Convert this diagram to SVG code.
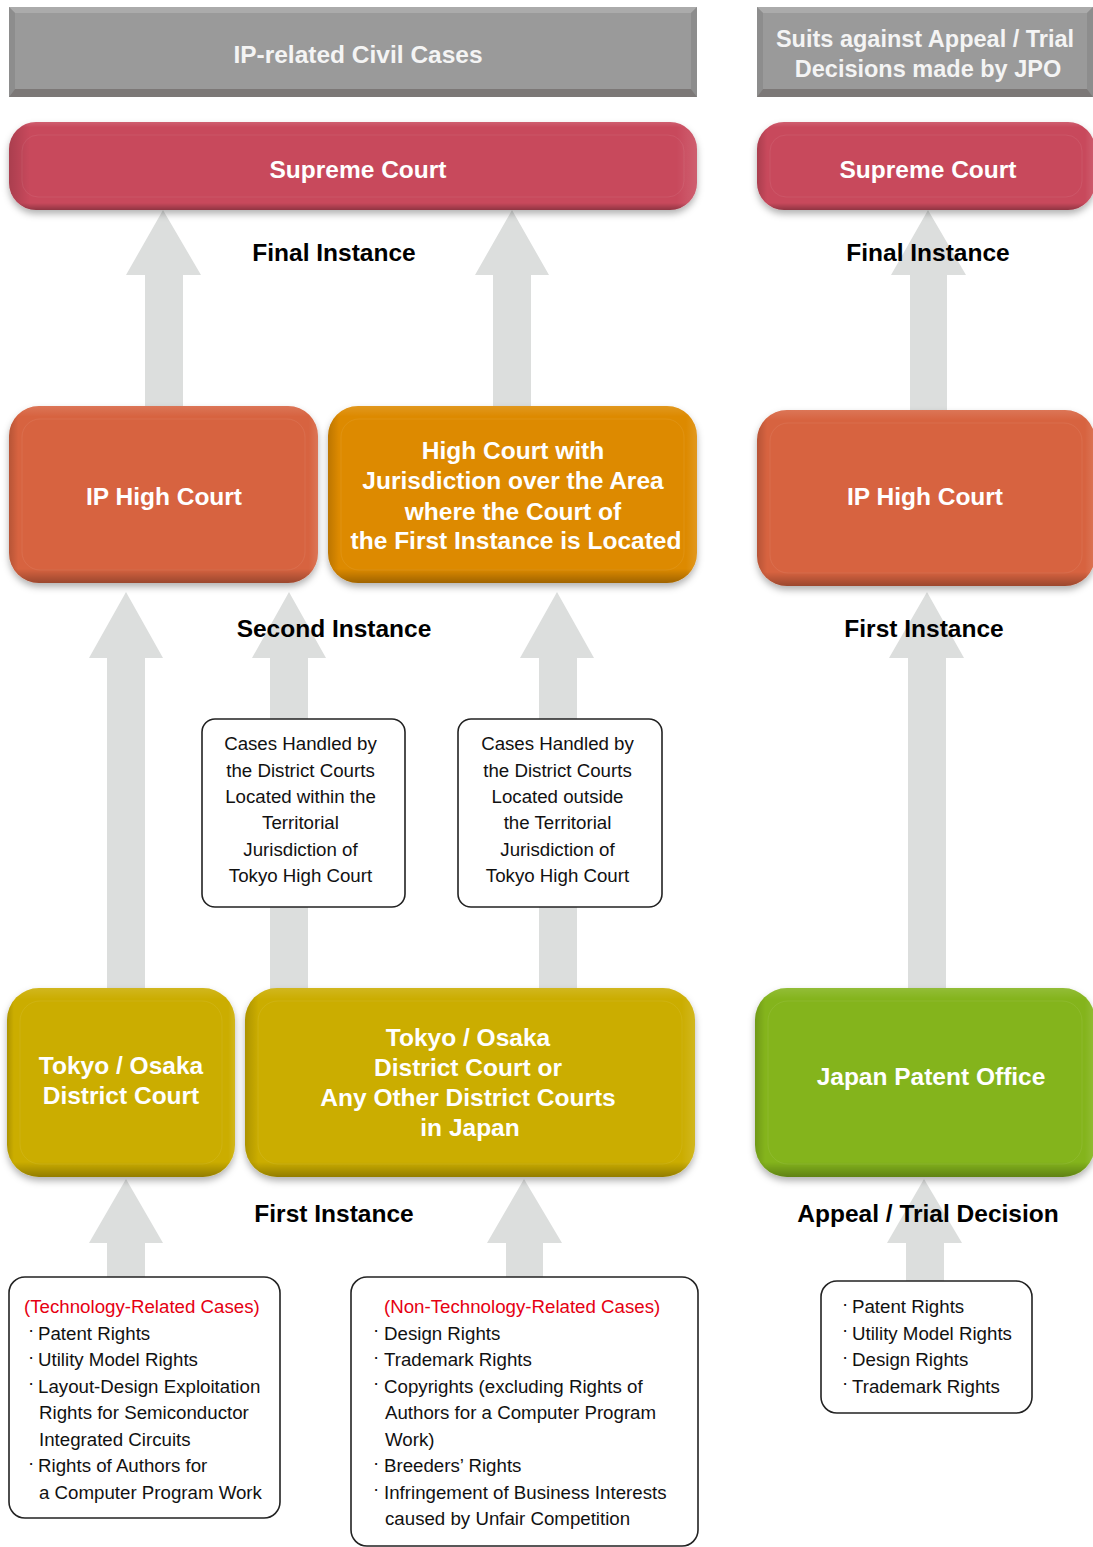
<svg xmlns="http://www.w3.org/2000/svg" width="1093" height="1547" viewBox="0 0 1093 1547">
<defs>
<filter id="sh" x="-10%" y="-20%" width="120%" height="150%">
<feDropShadow dx="0" dy="4" stdDeviation="3.5" flood-color="#000" flood-opacity="0.3"/>
</filter>
<linearGradient id="shade" x1="0" y1="0" x2="0" y2="1">
<stop offset="0" stop-color="#fff" stop-opacity="0.12"/>
<stop offset="0.06" stop-color="#fff" stop-opacity="0"/>
<stop offset="0.92" stop-color="#000" stop-opacity="0"/>
<stop offset="1" stop-color="#000" stop-opacity="0.28"/>
</linearGradient>
<linearGradient id="shadeH" x1="0" y1="0" x2="1" y2="0">
<stop offset="0" stop-color="#000" stop-opacity="0.15"/>
<stop offset="0.03" stop-color="#000" stop-opacity="0"/>
<stop offset="0.97" stop-color="#fff" stop-opacity="0"/>
<stop offset="1" stop-color="#fff" stop-opacity="0.12"/>
</linearGradient>
</defs>
<style>
text{font-family:"Liberation Sans",Arial,Helvetica,sans-serif}
.hd{font-size:24.5px;font-weight:bold;fill:#f4f4f4;text-anchor:middle}
.hd2{font-size:23.5px;font-weight:bold;fill:#f4f4f4;text-anchor:middle}
.nt{font-size:24.5px;font-weight:bold;fill:#fff;text-anchor:middle}
.lb{font-size:24.5px;font-weight:bold;fill:#000;text-anchor:middle}
.bx{font-size:18.7px;fill:#111;text-anchor:middle}
.li{font-size:18.7px;fill:#111}
.red{font-size:18.7px;fill:#e60012}
.card{fill:#fff;stroke:#222;stroke-width:1.6}
.arr{fill:#dcdedd}
.hl{fill:none;stroke:#fff;stroke-opacity:0.07;stroke-width:1}
.ov{fill:url(#shade)}
.ovh{fill:url(#shadeH)}
.sc{fill:#c8495c}
.ip{fill:#d7633f}
.or{fill:#dd8a00}
.ye{fill:#cbad00}
.gr{fill:#84b41e}
</style>
<rect width="1093" height="1547" fill="#fff"/>

<g id="connectors">
<polygon class="arr" points="163,210 201,275 183,275 183,412 145,412 145,275 126,275"/>
<polygon class="arr" points="512,210 549,275 531,275 531,412 493,412 493,275 475,275"/>
<polygon class="arr" points="928,210 966,275 947,275 947,416 910,416 910,275 891,275"/>
<polygon class="arr" points="126,592 163,658 145,658 145,995 107,995 107,658 89,658"/>
<polygon class="arr" points="289,592 326,658 308,658 308,995 270,995 270,658 252,658"/>
<polygon class="arr" points="557,592 594,658 577,658 577,995 539,995 539,658 520,658"/>
<polygon class="arr" points="927,592 964,658 946,658 946,995 908,995 908,658 889,658"/>
<polygon class="arr" points="126,1179 163,1243 145,1243 145,1280 107,1280 107,1243 89,1243"/>
<polygon class="arr" points="524,1179 562,1243 543,1243 543,1280 506,1280 506,1243 487,1243"/>
<polygon class="arr" points="924,1179 962,1243 944,1243 944,1284 906,1284 906,1243 887,1243"/>
</g>

<g id="header-civil">
<rect x="9" y="7" width="688" height="90" fill="#9a9a9a"/>
<polygon points="9,7 697,7 691,13 15,13" fill="#ababab"/>
<polygon points="9,7 15,13 15,89 9,97" fill="#8d8d8d"/>
<polygon points="697,7 691,13 691,89 697,97" fill="#8d8d8d"/>
<polygon points="9,97 697,97 691,89 15,89" fill="#7c7877"/>
<text class="hd" x="358" y="63">IP-related Civil Cases</text>
</g>

<g id="header-jpo">
<rect x="757" y="7" width="336" height="90" fill="#9a9a9a"/>
<polygon points="757,7 1093,7 1087,13 763,13" fill="#ababab"/>
<polygon points="757,7 763,13 763,89 757,97" fill="#8d8d8d"/>
<polygon points="1093,7 1087,13 1087,89 1093,97" fill="#8d8d8d"/>
<polygon points="757,97 1093,97 1087,89 763,89" fill="#7c7877"/>
<text class="hd2" x="925" y="47">Suits against Appeal / Trial</text>
<text class="hd2" x="928" y="77">Decisions made by JPO</text>
</g>

<g id="supreme-court-civil">
<rect class="sc" x="9" y="122" width="688" height="88" rx="27" filter="url(#sh)"/>
<rect class="ovh" x="9" y="122" width="688" height="88" rx="27"/>
<rect class="ov" x="9" y="122" width="688" height="88" rx="27"/>
<rect class="hl" x="22" y="135" width="662" height="62" rx="16"/>
<text class="nt" x="358" y="178">Supreme Court</text>
</g>

<g id="supreme-court-jpo">
<rect class="sc" x="757" y="122" width="338" height="88" rx="27" filter="url(#sh)"/>
<rect class="ovh" x="757" y="122" width="338" height="88" rx="27"/>
<rect class="ov" x="757" y="122" width="338" height="88" rx="27"/>
<rect class="hl" x="770" y="135" width="312" height="62" rx="16"/>
<text class="nt" x="928" y="178">Supreme Court</text>
</g>

<text class="lb" x="334" y="261">Final Instance</text>
<text class="lb" x="928" y="261">Final Instance</text>

<g id="ip-high-court-civil">
<rect class="ip" x="9" y="406" width="309" height="177" rx="30" filter="url(#sh)"/>
<rect class="ovh" x="9" y="406" width="309" height="177" rx="30"/>
<rect class="ov" x="9" y="406" width="309" height="177" rx="30"/>
<rect class="hl" x="22" y="419" width="283" height="151" rx="18"/>
<text class="nt" x="164" y="505">IP High Court</text>
</g>

<g id="high-court-area">
<rect class="or" x="328" y="406" width="369" height="177" rx="30" filter="url(#sh)"/>
<rect class="ovh" x="328" y="406" width="369" height="177" rx="30"/>
<rect class="ov" x="328" y="406" width="369" height="177" rx="30"/>
<rect class="hl" x="341" y="419" width="343" height="151" rx="18"/>
<text class="nt" x="513" y="459">High Court with</text>
<text class="nt" x="513" y="489">Jurisdiction over the Area</text>
<text class="nt" x="513" y="520">where the Court of</text>
<text class="nt" x="516" y="549">the First Instance is Located</text>
</g>

<g id="ip-high-court-jpo">
<rect class="ip" x="757" y="410" width="338" height="176" rx="30" filter="url(#sh)"/>
<rect class="ovh" x="757" y="410" width="338" height="176" rx="30"/>
<rect class="ov" x="757" y="410" width="338" height="176" rx="30"/>
<rect class="hl" x="770" y="423" width="312" height="150" rx="18"/>
<text class="nt" x="925" y="505">IP High Court</text>
</g>

<text class="lb" x="334" y="637">Second Instance</text>
<text class="lb" x="924" y="637">First Instance</text>

<g id="cases-within-tokyo">
<rect class="card" x="202" y="719" width="203" height="188" rx="13"/>
<text class="bx" x="300.5" y="750">Cases Handled by</text>
<text class="bx" x="300.5" y="776.5">the District Courts</text>
<text class="bx" x="300.5" y="803">Located within the</text>
<text class="bx" x="300.5" y="829">Territorial</text>
<text class="bx" x="300.5" y="855.5">Jurisdiction of</text>
<text class="bx" x="300.5" y="882">Tokyo High Court</text>
</g>

<g id="cases-outside-tokyo">
<rect class="card" x="458" y="719" width="204" height="188" rx="13"/>
<text class="bx" x="557.5" y="750">Cases Handled by</text>
<text class="bx" x="557.5" y="776.5">the District Courts</text>
<text class="bx" x="557.5" y="803">Located outside</text>
<text class="bx" x="557.5" y="829">the Territorial</text>
<text class="bx" x="557.5" y="855.5">Jurisdiction of</text>
<text class="bx" x="557.5" y="882">Tokyo High Court</text>
</g>

<g id="tokyo-osaka-district">
<rect class="ye" x="7" y="988" width="228" height="189" rx="32" filter="url(#sh)"/>
<rect class="ovh" x="7" y="988" width="228" height="189" rx="32"/>
<rect class="ov" x="7" y="988" width="228" height="189" rx="32"/>
<rect class="hl" x="20" y="1001" width="202" height="163" rx="20"/>
<text class="nt" x="121" y="1074">Tokyo / Osaka</text>
<text class="nt" x="121" y="1104">District Court</text>
</g>

<g id="any-district">
<rect class="ye" x="245" y="988" width="450" height="189" rx="32" filter="url(#sh)"/>
<rect class="ovh" x="245" y="988" width="450" height="189" rx="32"/>
<rect class="ov" x="245" y="988" width="450" height="189" rx="32"/>
<rect class="hl" x="258" y="1001" width="424" height="163" rx="20"/>
<text class="nt" x="468" y="1046">Tokyo / Osaka</text>
<text class="nt" x="468" y="1076">District Court or</text>
<text class="nt" x="468" y="1106">Any Other District Courts</text>
<text class="nt" x="470" y="1136">in Japan</text>
</g>

<g id="jpo">
<rect class="gr" x="755" y="988" width="340" height="189" rx="32" filter="url(#sh)"/>
<rect class="ovh" x="755" y="988" width="340" height="189" rx="32"/>
<rect class="ov" x="755" y="988" width="340" height="189" rx="32"/>
<rect class="hl" x="768" y="1001" width="314" height="163" rx="20"/>
<text class="nt" x="931" y="1085">Japan Patent Office</text>
</g>

<text class="lb" x="334" y="1222">First Instance</text>
<text class="lb" x="928" y="1222">Appeal / Trial Decision</text>

<g id="tech-cases">
<rect class="card" x="9" y="1277" width="271" height="241" rx="16"/>
<text class="red" x="24" y="1313">(Technology-Related Cases)</text>
<text class="li" y="1339.5"><tspan x="28" dy="-3.5">·</tspan><tspan x="38" dy="3.5">Patent Rights</tspan></text>
<text class="li" y="1366"><tspan x="28" dy="-3.5">·</tspan><tspan x="38" dy="3.5">Utility Model Rights</tspan></text>
<text class="li" y="1392.5"><tspan x="28" dy="-3.5">·</tspan><tspan x="38" dy="3.5">Layout-Design Exploitation</tspan></text>
<text class="li" x="39" y="1419">Rights for Semiconductor</text>
<text class="li" x="39" y="1445.5">Integrated Circuits</text>
<text class="li" y="1472"><tspan x="28" dy="-3.5">·</tspan><tspan x="38" dy="3.5">Rights of Authors for</tspan></text>
<text class="li" x="39" y="1498.5">a Computer Program Work</text>
</g>

<g id="non-tech-cases">
<rect class="card" x="351" y="1277" width="347" height="269" rx="16"/>
<text class="red" x="384" y="1313">(Non-Technology-Related Cases)</text>
<text class="li" y="1339.5"><tspan x="373" dy="-3.5">·</tspan><tspan x="384" dy="3.5">Design Rights</tspan></text>
<text class="li" y="1366"><tspan x="373" dy="-3.5">·</tspan><tspan x="384" dy="3.5">Trademark Rights</tspan></text>
<text class="li" y="1392.5"><tspan x="373" dy="-3.5">·</tspan><tspan x="384" dy="3.5">Copyrights (excluding Rights of</tspan></text>
<text class="li" x="385" y="1419">Authors for a Computer Program</text>
<text class="li" x="385" y="1445.5">Work)</text>
<text class="li" y="1472"><tspan x="373" dy="-3.5">·</tspan><tspan x="384" dy="3.5">Breeders’ Rights</tspan></text>
<text class="li" y="1498.5"><tspan x="373" dy="-3.5">·</tspan><tspan x="384" dy="3.5">Infringement of Business Interests</tspan></text>
<text class="li" x="385" y="1525">caused by Unfair Competition</text>
</g>

<g id="jpo-rights">
<rect class="card" x="821" y="1281" width="211" height="132" rx="16"/>
<text class="li" y="1313"><tspan x="842" dy="-3.5">·</tspan><tspan x="852" dy="3.5">Patent Rights</tspan></text>
<text class="li" y="1339.5"><tspan x="842" dy="-3.5">·</tspan><tspan x="852" dy="3.5">Utility Model Rights</tspan></text>
<text class="li" y="1366"><tspan x="842" dy="-3.5">·</tspan><tspan x="852" dy="3.5">Design Rights</tspan></text>
<text class="li" y="1392.5"><tspan x="842" dy="-3.5">·</tspan><tspan x="852" dy="3.5">Trademark Rights</tspan></text>
</g>
</svg>
